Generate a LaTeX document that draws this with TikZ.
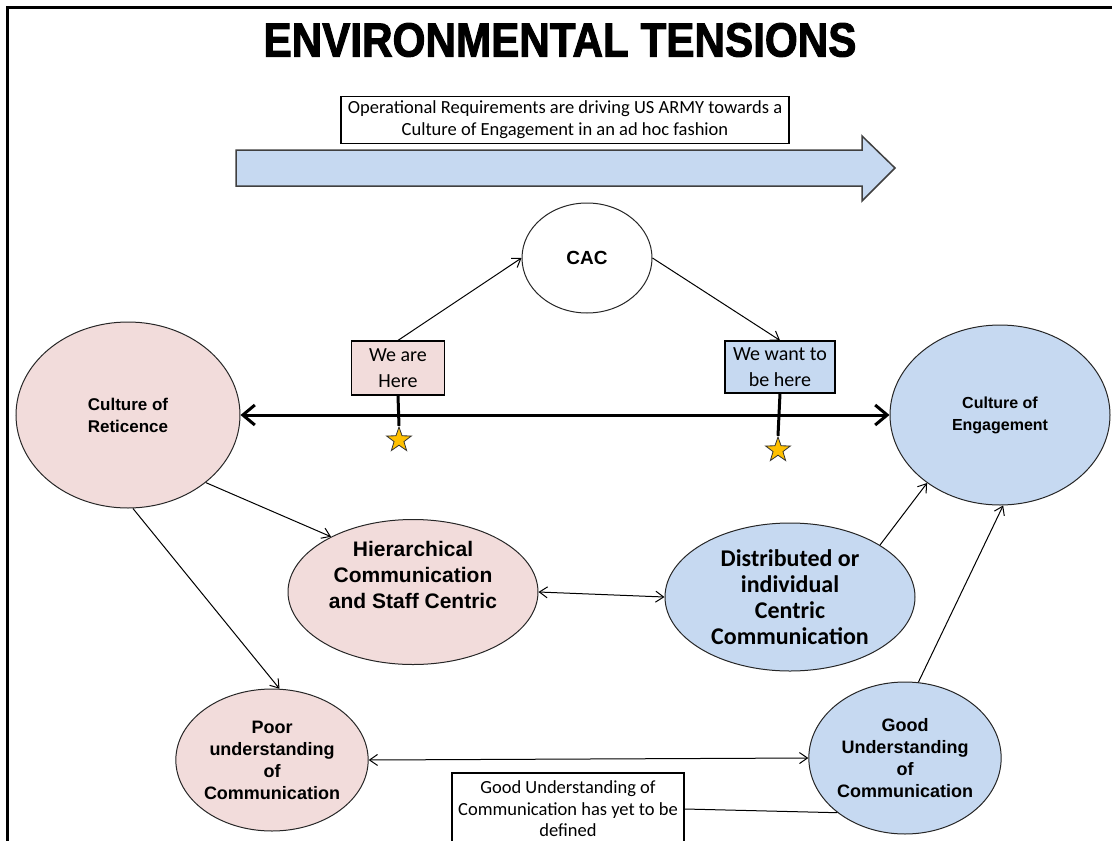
\documentclass[tikz,border=0pt]{standalone}
\usepackage{fontspec}
\setmainfont{Liberation Sans}
\newfontfamily\calibri{Carlito}
\newfontfamily\titlefont[FakeStretch=0.88, FakeBold=2]{Liberation Sans}
\usetikzlibrary{arrows.meta, shapes, positioning}

\definecolor{retpink}{HTML}{F2DCDB}
\definecolor{engblue}{HTML}{C6D9F1}
\definecolor{starfill}{HTML}{FFC000}

\tikzset{
  bubble/.style={ellipse, draw=black!85, line width=1pt, inner sep=0pt, align=center},
  pinkbubble/.style={bubble, fill=retpink},
  bluebubble/.style={bubble, fill=engblue},
  notebox/.style={rectangle, draw, line width=1.2pt, inner sep=0pt, align=center, font=\calibri},
  flow/.style={-{Straight Barb[length=8pt, width=11pt]}, line width=1pt},
  twoway/.style={{Straight Barb[length=8pt, width=11pt]}-{Straight Barb[length=8pt, width=11pt]}, line width=1pt},
  starmark/.style={star, star points=5, star point ratio=2.5, fill=starfill, draw=black!80, line width=0.8pt, minimum size=26pt, inner sep=0pt}
}

\begin{document}
\begin{tikzpicture}[x=1pt, y=-1pt]
			\useasboundingbox (0,0) rectangle (1112,841);
			\draw[line width=3pt] (7,841) -- (7,7) -- (1112,7);
			\node[font=\titlefont\bfseries\fontsize{48}{48}\selectfont] (title) at (560,40) {ENVIRONMENTAL TENSIONS};

			% big arrow across the top
			\draw[fill=engblue, draw=black!75, line width=1.5pt] (236,150) -- (862,150) -- (862,136) -- (895,168) -- (862,201) -- (862,186) -- (236,186) -- cycle;
			\node[notebox, fill=white, minimum width=448, minimum height=47, font=\calibri\fontsize{18.5}{22}\selectfont] (drive) at (565,120)
				{Operational Requirements are driving US ARMY towards a\\ Culture of Engagement in an ad hoc fashion};

			% the two cultures
			\node[pinkbubble, minimum width=224, minimum height=186, font=\bfseries\fontsize{17}{22}\selectfont] (ret) at (128,415) {Culture of\\ Reticence};
			\node[bluebubble, minimum width=220, minimum height=180, font=\bfseries\fontsize{16}{22}\selectfont] (eng) at (1000,415) {Culture of\\ Engagement};
			\draw[{Straight Barb[length=12pt, width=20pt]}-{Straight Barb[length=12pt, width=20pt]}, line width=3pt] (ret.east) -- (eng.west);

			\node[bubble, fill=white, minimum width=130, minimum height=110, font=\bfseries\fontsize{19}{22}\selectfont] (cac) at (587,258) {CAC};
			\node[notebox, fill=retpink, minimum width=93, minimum height=54, font=\calibri\fontsize{20}{26}\selectfont] (here) at (398,368) {We are\\ Here};
			\node[notebox, fill=engblue, minimum width=110, minimum height=52, font=\calibri\fontsize{20}{26}\selectfont] (want) at (780,367) {We want to\\ be here};
			\node[starmark] (herestar) at (399,440) {};
			\node[starmark] (wantstar) at (778,450) {};
			\draw[line width=3pt] (here.south) -- (herestar.north);
			\draw[line width=3pt] (want.south) -- (wantstar.north);
			\draw[flow] (here.north) -- (cac.west);
			\draw[flow] (cac.east) -- (want.north);

			% communication styles
			\node[pinkbubble, minimum width=250, minimum height=145] (hier) at (413,592) {};
			\node[font=\bfseries\fontsize{21}{26}\selectfont, align=center] (hiertext) at (413,575) {Hierarchical\\ Communication\\ and Staff Centric};
			\node[bluebubble, minimum width=250, minimum height=148, font=\calibri\bfseries\fontsize{24}{26}\selectfont] (dist) at (790,597) {Distributed or\\ individual\\ Centric\\ Communication};
			\node[pinkbubble, minimum width=184, minimum height=142, font=\bfseries\fontsize{18}{22}\selectfont] (poor) at (272,760) {Poor\\ understanding\\ of\\ Communication};
			\node[bluebubble, minimum width=182, minimum height=152, font=\bfseries\fontsize{18}{22}\selectfont] (good) at (905,758) {Good\\ Understanding\\ of\\ Communication};
			\node[notebox, fill=white, minimum width=232, minimum height=72, font=\calibri\fontsize{18.5}{21.5}\selectfont] (yet) at (568,809)
				{Good Understanding of\\ Communication has yet to be\\ defined};

			\draw[flow] (ret.-41) -- (hier.146);
			\draw[flow] (ret.-87) -- (poor.84);
			\draw[twoway] (hier.east) -- (dist.west);
			\draw[twoway] (poor.east) -- (good.west);
			\draw[flow] (dist.30) -- (eng.-137);
			\draw[flow] (good.80) -- (eng.-88);
			\draw[line width=1pt] (yet.east) -- (good.-141);
\end{tikzpicture}
\end{document}
